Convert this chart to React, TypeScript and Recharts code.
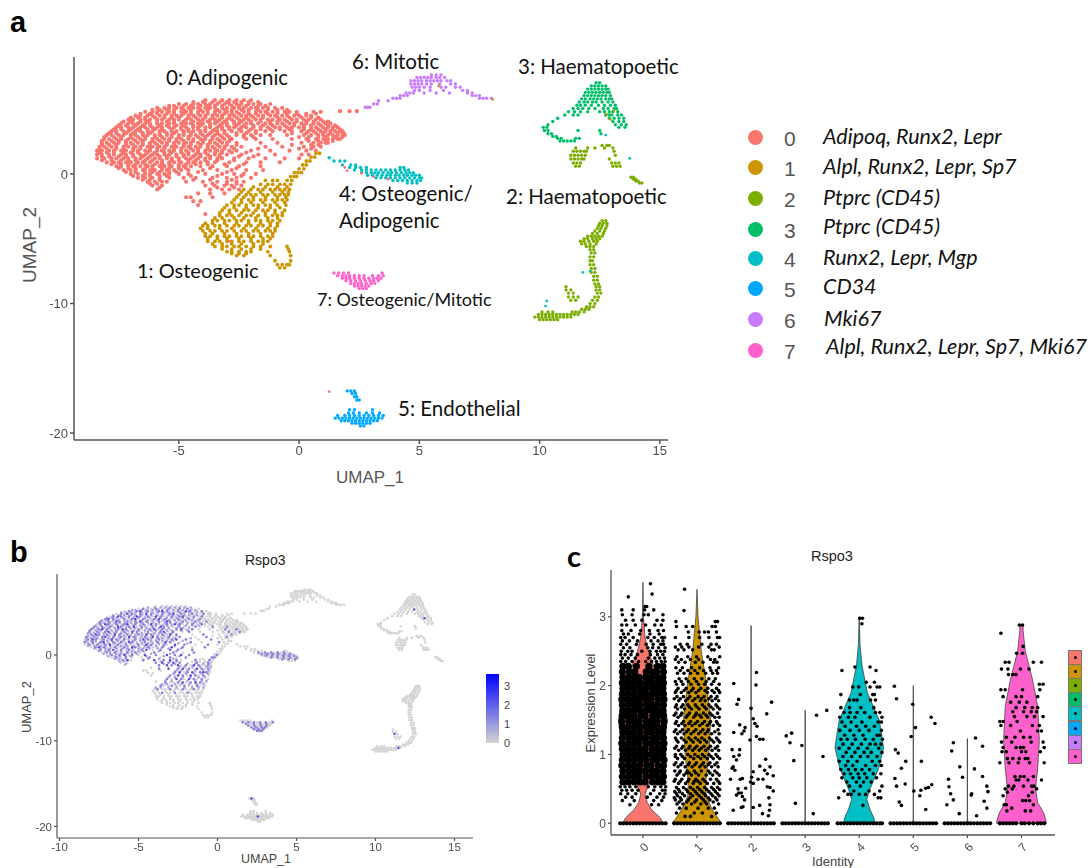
import React from 'react';
import { ScatterChart, Scatter, XAxis, YAxis } from 'recharts';

type Row = [number, number[]];
type Pair = [number, number];

const IDENTITIES = ['0', '1', '2', '3', '4', '5', '6', '7'];
const COLORS = ['#F8766D', '#CD9600', '#7CAE00', '#00BE67', '#00BFC4', '#00A9FF', '#C77CFF', '#FF61CC'];
const MARKERS = ['Adipoq, Runx2, Lepr', 'Alpl, Runx2, Lepr, Sp7', 'Ptprc (CD45)', 'Ptprc (CD45)', 'Runx2, Lepr, Mgp', 'CD34', 'Mki67', 'Alpl, Runx2, Lepr, Sp7, Mki67'];

// UMAP clusters, one row per y value
const cluster0: Row[] = [
  [5.7, [-3.9, -3.5, -3.2, -2.9, -2.6, -2.3, -2.0]],
  [5.4, [-5.0, -4.7, -4.4, -4.2, -3.9, -3.7, -3.4, -3.1, -2.9, -2.6, -2.4, -2.1, -1.9, -1.6, -1.2]],
  [5.1, [-5.9, -5.6, -5.4, -5.1, -4.9, -4.6, -4.4, -4.2, -3.9, -3.7, -3.5, -3.2, -3.0, -2.7, -2.5, -2.3, -2.0, -1.8, -1.5, -1.3, -1.0, -0.7]],
  [4.8, [-6.4, -6.1, -5.9, -5.7, -5.4, -5.2, -4.9, -4.7, -4.5, -4.2, -4.0, -3.8, -3.5, -3.3, -3.0, -2.8, -2.6, -2.3, -2.1, -1.8, -1.6, -1.4, -1.1, -0.9, -0.6, -0.4, -0.1, 0.6, 0.9]],
  [4.5, [-6.8, -6.6, -6.3, -6.1, -5.8, -5.6, -5.3, -5.1, -4.9, -4.6, -4.4, -4.1, -3.9, -3.6, -3.4, -3.2, -2.9, -2.7, -2.4, -2.2, -2.0, -1.7, -1.5, -1.2, -1.0, -0.7, -0.5, -0.2, 0.0, 0.3, 0.5]],
  [4.2, [-7.1, -6.9, -6.6, -6.4, -6.2, -5.9, -5.7, -5.4, -5.2, -5.0, -4.7, -4.5, -4.2, -4.0, -3.7, -3.5, -3.3, -3.0, -2.8, -2.5, -2.3, -2.1, -1.8, -1.6, -1.3, -1.1, -0.8, -0.6, -0.3, -0.1, 0.2, 0.4, 0.7, 0.9]],
  [3.9, [-7.4, -7.1, -6.9, -6.7, -6.4, -6.2, -5.9, -5.7, -5.4, -5.2, -4.9, -4.7, -4.5, -4.2, -4.0, -3.7, -3.5, -3.2, -3.0, -2.7, -2.5, -2.2, -2.0, -1.7, -1.4, -1.2, -0.9, -0.7, -0.4, -0.2, 0.1, 0.3, 0.6, 0.8, 1.1, 1.3]],
  [3.6, [-7.6, -7.4, -7.1, -6.9, -6.6, -6.4, -6.1, -5.9, -5.7, -5.4, -5.2, -4.9, -4.7, -4.4, -4.2, -3.9, -3.7, -3.4, -3.2, -2.9, -2.7, -2.4, -2.2, -1.9, -1.6, -1.3, -1.0, -0.8, -0.5, -0.3, 0.0, 0.2, 0.5, 0.7, 1.0, 1.2, 1.4, 1.6]],
  [3.3, [-7.8, -7.6, -7.3, -7.1, -6.8, -6.6, -6.3, -6.1, -5.8, -5.6, -5.3, -5.1, -4.8, -4.6, -4.4, -4.1, -3.9, -3.6, -3.4, -3.1, -2.8, -2.4, -2.1, -1.8, -1.4, -1.1, -0.6, -0.3, 0.1, 0.4, 0.6, 0.9, 1.1, 1.3, 1.5, 1.7, 1.8]],
  [3.0, [-8.0, -7.8, -7.5, -7.3, -7.0, -6.8, -6.5, -6.3, -6.0, -5.8, -5.5, -5.3, -5.0, -4.8, -4.5, -4.3, -4.0, -3.8, -3.5, -3.3, -3.0, -2.6, -2.3, -2.0, -1.6, -1.2, -0.5, 0.2, 0.5, 0.8, 1.0, 1.2, 1.4, 1.6, 1.8, 1.9]],
  [2.7, [-8.1, -7.9, -7.6, -7.4, -7.1, -6.9, -6.6, -6.4, -6.1, -5.9, -5.6, -5.4, -5.1, -4.9, -4.6, -4.4, -4.1, -3.9, -3.6, -3.4, -3.1, -2.8, -2.2, -1.8, -1.1, -0.3, 0.3, 0.7, 1.0, 1.2, 1.4, 1.6, 1.7]],
  [2.4, [-8.2, -8.0, -7.7, -7.5, -7.2, -7.0, -6.7, -6.5, -6.2, -6.0, -5.7, -5.5, -5.2, -5.0, -4.7, -4.5, -4.2, -4.0, -3.7, -3.5, -3.2, -3.0, -2.6, -1.6, -0.9, 0.1, 0.6, 0.9, 1.1, 1.2]],
  [2.1, [-8.3, -8.1, -7.8, -7.6, -7.3, -7.1, -6.8, -6.6, -6.3, -6.1, -5.8, -5.6, -5.3, -5.1, -4.8, -4.6, -4.3, -4.1, -3.8, -3.6, -3.3, -3.1, -2.8, -2.4, -1.4, -0.7, 0.2, 0.6, 0.9]],
  [1.8, [-8.4, -8.2, -7.9, -7.7, -7.4, -7.2, -6.9, -6.7, -6.4, -6.2, -5.9, -5.7, -5.4, -5.2, -4.9, -4.7, -4.4, -4.2, -3.9, -3.7, -3.4, -3.2, -2.9, -2.6, -2.0, -1.2, -0.4, 0.3, 0.7]],
  [1.5, [-8.4, -8.2, -7.9, -7.7, -7.4, -7.2, -6.9, -6.6, -6.4, -6.1, -5.9, -5.6, -5.4, -5.1, -4.8, -4.6, -4.3, -4.1, -3.8, -3.5, -3.3, -3.0, -2.4, -1.7, -1.0, 0.1, 0.4]],
  [1.2, [-8.4, -8.1, -7.8, -7.6, -7.3, -7.1, -6.8, -6.6, -6.3, -6.0, -5.8, -5.5, -5.3, -5.0, -4.7, -4.5, -4.2, -3.9, -3.7, -3.4, -3.2, -2.7, -2.1, -1.4, -0.6, 0.0]],
  [0.9, [-8.0, -7.7, -7.5, -7.2, -7.0, -6.7, -6.5, -6.2, -5.9, -5.7, -5.4, -5.2, -4.9, -4.6, -4.4, -4.1, -3.8, -3.5, -2.9, -2.2, -1.6, -0.8]],
  [0.6, [-7.6, -7.4, -7.1, -6.9, -6.6, -6.3, -6.1, -5.8, -5.6, -5.3, -5.0, -4.8, -4.5, -4.1, -3.6, -3.0, -2.5, -1.6]],
  [0.3, [-7.3, -7.0, -6.8, -6.5, -6.2, -6.0, -5.7, -5.5, -5.2, -4.9, -4.6, -4.0, -3.4, -2.8, -2.2, -1.5]],
  [0.0, [-7.0, -6.7, -6.4, -6.2, -5.9, -5.6, -5.4, -5.0, -4.6, -3.9, -3.2, -2.7, -2.3, -1.8]],
  [-0.3, [-6.7, -6.4, -6.1, -5.8, -5.4, -4.8, -4.3, -3.6, -3.0, -2.6, -2.0]],
  [-0.6, [-6.3, -6.0, -5.7, -5.5, -4.7, -4.0, -3.4, -3.0, -2.6, -2.3]],
  [-0.9, [-6.1, -5.7, -3.9, -3.5, -3.1, -2.8, -2.4]],
  [-1.2, [-5.9, -3.7, -3.2, -2.9, -2.5]],
  [-1.5, [-4.2, -3.7, -3.1]],
  [-1.8, [-4.7, -4.5, -3.6]],
  [-2.1, [-4.4, -4.1]],
  [-2.4, [-4.2]],
  [-3.1, [-3.9]],
  [4.85, [1.7, 2.1, 2.4]],
];
// more cells of cluster 0, left part (these also express Rspo3 in panel b)
const cluster0Left: Row[] = [
  [5.55, [-4.4, -4.0, -3.6, -3.3, -3.0, -2.7, -2.4, -2.1, -1.7]],
  [5.25, [-5.4, -5.2, -4.8, -4.5, -4.1, -3.8, -3.5, -3.2, -2.8, -2.5, -2.2, -1.7, -1.4]],
  [4.95, [-6.1, -5.8, -5.5, -5.2, -4.8, -4.5, -4.1, -3.8, -3.4, -3.1, -2.8, -2.4, -2.1, -1.7, -1.3]],
  [4.65, [-6.6, -6.2, -5.9, -5.5, -5.2, -4.8, -4.5, -4.2, -3.8, -3.5, -3.1, -2.8, -2.5, -2.1, -1.8, -1.3]],
  [4.35, [-7.0, -6.7, -6.4, -6.0, -5.6, -5.3, -5.0, -4.6, -4.3, -3.9, -3.6, -3.2, -2.9, -2.6, -2.2, -1.9, -1.5]],
  [4.05, [-7.3, -7.0, -6.6, -6.3, -5.9, -5.5, -5.2, -4.8, -4.4, -4.1, -3.8, -3.4, -3.1, -2.7, -2.4, -2.0, -1.6, -1.2]],
  [3.75, [-7.5, -7.2, -6.8, -6.5, -6.2, -5.8, -5.5, -5.1, -4.8, -4.4, -4.1, -3.7, -3.3, -3.0, -2.6, -2.3, -1.9, -1.5, -1.1]],
  [3.45, [-7.7, -7.4, -7.0, -6.7, -6.3, -6.0, -5.7, -5.3, -4.9, -4.6, -4.2, -3.9, -3.5, -3.2, -2.9, -2.5, -2.0, -1.6, -1.2]],
  [3.15, [-7.9, -7.6, -7.2, -6.9, -6.5, -6.2, -5.8, -5.5, -5.2, -4.8, -4.5, -4.1, -3.7, -3.4, -3.1, -2.6, -2.2, -1.8]],
  [2.85, [-8.1, -7.7, -7.4, -7.0, -6.7, -6.4, -6.0, -5.7, -5.3, -5.0, -4.6, -4.2, -3.9, -3.6, -3.2, -2.9, -2.3, -1.9]],
  [2.55, [-8.2, -7.8, -7.5, -7.2, -6.8, -6.5, -6.1, -5.8, -5.4, -5.1, -4.8, -4.4, -4.0, -3.7, -3.3, -2.9]],
  [2.25, [-8.2, -7.9, -7.6, -7.2, -6.9, -6.5, -6.2, -5.9, -5.5, -5.2, -4.8, -4.5, -4.1, -3.8, -3.4, -3.0, -2.6]],
  [1.95, [-8.3, -8.0, -7.6, -7.3, -6.9, -6.6, -6.2, -5.9, -5.6, -5.2, -4.9, -4.5, -4.2, -3.8, -3.5, -3.1, -2.7, -1.7]],
  [1.65, [-8.3, -8.0, -7.7, -7.3, -7.0, -6.7, -6.3, -6.0, -5.6, -5.3, -4.9, -4.6, -4.2, -3.9, -3.5, -3.2, -2.8, -2.2]],
  [1.35, [-8.2, -7.9, -7.5, -7.2, -6.9, -6.5, -6.2, -5.8, -5.5, -5.1, -4.8, -4.4, -4.1, -3.7, -3.3, -2.5, -1.9]],
  [1.05, [-8.2, -7.8, -7.4, -7.1, -6.8, -6.4, -6.1, -5.7, -5.3, -5.0, -4.6, -4.3, -3.9, -3.4, -2.7]],
  [0.75, [-7.8, -7.4, -7.1, -6.8, -6.4, -6.0, -5.7, -5.4, -5.0, -4.7, -4.3, -3.8, -3.1, -2.3]],
  [0.45, [-7.5, -7.1, -6.8, -6.4, -6.1, -5.7, -5.4, -5.0, -4.7, -3.7, -2.6]],
  [0.15, [-7.2, -6.8, -6.4, -6.1, -5.8, -5.4, -5.1, -4.2, -3.0]],
  [-0.15, [-6.9, -6.5, -6.2, -5.8, -5.5, -4.5, -3.4, -2.4]],
  [-0.45, [-6.5, -6.2, -5.8, -4.4, -3.7, -2.8]],
  [-0.75, [-6.2, -5.9, -3.6, -3.0, -2.6]],
  [-1.05, [-5.8, -3.4, -2.7]],
];
// and the right part, which stays grey in panel b
const cluster0Right: Row[] = [
  [4.95, [-0.9, -0.5]],
  [4.65, [-0.9, -0.5, -0.1, 0.3, 0.7]],
  [4.35, [-0.9, -0.4, 0.1, 0.5, 0.8]],
  [4.05, [-0.9, -0.5, -0.1, 0.3, 0.6, 1.0, 1.2]],
  [3.75, [-0.6, -0.2, 0.2, 0.5, 0.9, 1.2, 1.5]],
  [3.45, [-0.8, -0.4, 0.2, 0.5, 0.8, 1.1, 1.4, 1.7]],
  [3.15, [-0.3, 0.3, 0.7, 1.0, 1.3, 1.6, 1.85]],
  [2.85, [0.0, 0.4, 0.8, 1.1, 1.5, 1.8]],
  [2.55, [0.4, 0.8, 1.1, 1.4]],
  [2.25, [-0.3, 0.5, 0.8]],
  [1.95, [0.0, 0.5]],
];
const cluster1: Row[] = [
  [1.6, [0.7, 0.85]],
  [1.3, [0.5, 0.65]],
  [1.0, [0.3, 0.45]],
  [0.7, [0.15, 0.3]],
  [0.4, [0.0, 0.2]],
  [0.1, [-0.2, -0.05, 0.1]],
  [-0.2, [-0.35, -0.2, -0.1]],
  [-0.5, [-1.4, -1.1, -0.9, -0.5, -0.3]],
  [-0.8, [-1.6, -1.3, -1.1, -0.8, -0.6, -0.35]],
  [-1.2, [-2.3, -2.0, -1.7, -1.5, -1.2, -1.0, -0.8, -0.6, -0.4]],
  [-1.6, [-2.5, -2.2, -2.0, -1.8, -1.5, -1.3, -1.0, -0.8, -0.6, -0.45]],
  [-2.0, [-2.7, -2.4, -2.1, -1.9, -1.6, -1.4, -1.1, -0.9, -0.7, -0.5]],
  [-2.4, [-3.0, -2.7, -2.5, -2.2, -1.9, -1.7, -1.4, -1.2, -0.9, -0.55]],
  [-2.8, [-3.2, -2.9, -2.6, -2.3, -2.1, -1.8, -1.5, -1.3, -1.0, -0.6]],
  [-3.2, [-3.3, -3.0, -2.8, -2.5, -2.2, -2.0, -1.7, -1.4, -1.1, -0.9, -0.7]],
  [-3.6, [-3.6, -3.4, -3.1, -2.9, -2.6, -2.4, -2.1, -1.8, -1.6, -1.3, -1.1, -0.8]],
  [-4.0, [-4.0, -3.8, -3.5, -3.3, -3.0, -2.7, -2.5, -2.2, -2.0, -1.7, -1.5, -1.2, -0.9]],
  [-4.4, [-4.0, -3.7, -3.5, -3.2, -3.0, -2.7, -2.4, -2.2, -1.9, -1.7, -1.4, -1.2, -1.0]],
  [-4.8, [-3.9, -3.7, -3.4, -3.1, -2.9, -2.6, -2.4, -2.1, -1.9, -1.6, -1.3, -1.1]],
  [-5.2, [-3.8, -3.5, -3.3, -3.0, -2.8, -2.5, -2.3, -2.0, -1.7, -1.5, -1.3]],
  [-5.6, [-3.5, -3.2, -3.0, -2.7, -2.5, -2.2, -1.9, -1.6, -1.2, -0.5]],
  [-6.0, [-3.0, -2.8, -2.5, -2.2, -2.0, -1.3, -0.4]],
  [-6.3, [-2.6, -2.3, -1.2, -0.35]],
  [-6.7, [-1.0, -0.35]],
  [-7.0, [-0.9, -0.7, -0.5, -0.4]],
  [-7.25, [-0.8, -0.6]],
];
const cluster1Upper: Row[] = [
  [-1.0, [-1.9, -1.4, -0.9, -0.5]],
  [-1.4, [-2.4, -2.1, -1.6, -1.1, -0.7, -0.45]],
  [-1.8, [-2.6, -2.3, -1.9, -1.4, -0.9, -0.55]],
  [-2.2, [-2.8, -2.4, -2.0, -1.5, -1.0, -0.6]],
  [-2.6, [-3.1, -2.7, -2.2, -1.7, -1.2, -0.8]],
  [-3.0, [-3.3, -2.9, -2.4, -1.9, -1.4, -1.0, -0.7]],
  [-3.4, [-3.5, -3.2, -2.7, -2.3, -1.8, -1.3, -0.9]],
  [-3.8, [-3.9, -3.6, -3.1, -2.6, -2.1, -1.6, -1.2, -0.9]],
];
const cluster1Lower: Row[] = [
  [-4.2, [-4.1, -3.8, -3.3, -2.8, -2.3, -1.8, -1.3, -1.0]],
  [-4.6, [-3.9, -3.6, -3.1, -2.6, -2.1, -1.6, -1.1]],
  [-5.0, [-3.8, -3.4, -3.0, -2.5, -2.0, -1.5, -1.2]],
  [-5.4, [-3.6, -3.2, -2.8, -2.4, -1.9, -1.5]],
  [-5.8, [-3.2, -2.8, -2.4, -2.0, -1.6, -0.45]],
  [-6.15, [-2.8, -2.5, -2.2]],
];
const cluster2: Row[] = [
  [2.2, [12.6, 12.8, 12.9]],
  [2.0, [11.5, 12.0, 12.3, 13.05, 12.7]],
  [1.75, [11.4, 11.55, 11.7, 11.85, 11.95, 13.1]],
  [1.45, [11.3, 11.45, 11.6, 11.75, 11.9, 13.15]],
  [1.15, [11.3, 11.45, 11.6, 11.75, 11.85, 12.9]],
  [0.85, [11.4, 11.55, 11.7, 13.0, 13.15, 13.3]],
  [0.6, [11.5, 11.65, 13.05, 13.2, 13.35]],
  [-0.25, [13.8, 13.9]],
  [-0.4, [13.9, 14.0]],
  [-0.55, [14.0, 14.1]],
  [-0.7, [14.15, 14.25]],
  [-3.6, [12.6, 12.75]],
  [-3.8, [12.5, 12.65, 12.8]],
  [-4.0, [12.45, 12.6, 12.8]],
  [-4.2, [12.4, 12.55, 12.75]],
  [-4.4, [12.3, 12.5, 12.7]],
  [-4.6, [12.2, 12.4, 12.65]],
  [-4.8, [12.0, 12.15, 12.3, 12.45, 12.6]],
  [-5.0, [11.85, 12.0, 12.2, 12.35, 12.5]],
  [-5.2, [11.7, 11.85, 12.05, 12.25, 12.4]],
  [-5.4, [11.75, 11.9, 12.1, 12.35]],
  [-5.6, [11.95, 12.1, 12.25]],
  [-5.85, [12.1, 12.25]],
  [-6.1, [12.15, 12.3]],
  [-6.4, [12.1, 12.25]],
  [-6.7, [12.1, 12.2]],
  [-7.0, [12.1, 12.25]],
  [-7.3, [12.15, 12.3]],
  [-7.6, [12.15, 12.3]],
  [-7.9, [12.25, 12.4]],
  [-8.2, [12.25, 12.4]],
  [-8.5, [12.3, 12.45]],
  [-8.7, [12.35, 12.5, 11.1]],
  [-8.95, [12.35, 12.5, 11.1, 11.3]],
  [-9.2, [12.4, 12.55, 11.2, 11.4]],
  [-9.5, [12.3, 12.45, 11.2, 11.4, 11.6]],
  [-9.75, [12.2, 12.4, 11.3, 11.5]],
  [-10.0, [12.1, 12.3]],
  [-10.25, [11.95, 12.1, 12.25]],
  [-10.45, [11.75, 11.9, 12.05]],
  [-10.65, [10.1, 10.35, 10.55, 11.35, 11.5, 11.65, 11.85]],
  [-10.85, [9.95, 10.1, 10.25, 10.4, 10.55, 10.7, 10.85, 11.0, 11.15, 11.3, 11.45, 11.6]],
  [-11.05, [9.8, 9.95, 10.1, 10.25, 10.4, 10.55, 10.7, 10.85, 11.0, 11.15, 11.3]],
  [-11.25, [10.0, 10.15, 10.3, 10.45, 10.6, 10.75]],
];
const cluster3: Row[] = [
  [7.05, [12.35, 12.5]],
  [6.8, [12.15, 12.3, 12.45, 12.6, 12.75]],
  [6.55, [12.0, 12.15, 12.3, 12.45, 12.6, 12.75, 12.85]],
  [6.3, [11.9, 12.05, 12.2, 12.35, 12.5, 12.65, 12.8, 12.9]],
  [6.05, [11.85, 12.0, 12.15, 12.3, 12.45, 12.6, 12.75, 12.95]],
  [5.8, [11.75, 11.9, 12.1, 12.25, 12.4, 12.55, 12.75, 12.9, 13.0]],
  [5.55, [11.65, 11.85, 12.0, 12.2, 12.35, 12.6, 12.85, 13.05]],
  [5.3, [11.55, 11.7, 11.9, 12.15, 12.45, 12.7, 12.95, 13.15]],
  [5.05, [11.4, 11.6, 11.8, 12.05, 12.3, 12.65, 12.85, 13.1, 13.2]],
  [4.8, [11.2, 11.45, 11.7, 12.0, 12.5, 12.7, 12.9, 13.05, 13.25]],
  [4.55, [11.05, 11.4, 11.6, 12.75, 12.9, 13.0, 13.25, 13.4]],
  [4.3, [10.75, 12.9, 13.1, 13.3, 13.5]],
  [4.05, [10.55, 13.05, 13.3, 13.5]],
  [3.8, [10.35, 13.15, 13.4, 13.6]],
  [3.6, [10.15, 10.3, 13.3, 13.55]],
  [3.35, [10.2, 10.35, 12.5, 11.6]],
  [3.1, [10.35, 10.5, 12.55]],
  [2.9, [10.55, 10.7]],
  [2.75, [10.75, 10.9, 11.5, 11.65]],
  [2.55, [10.85, 11.0, 11.15, 11.3, 11.45]],
];
const cluster4: Row[] = [
  [1.25, [1.25]],
  [1.0, [1.45, 1.7, 1.9]],
  [0.7, [1.8, 2.15, 2.35]],
  [0.5, [2.1, 2.35, 2.55, 2.8, 4.2, 4.35]],
  [0.3, [2.3, 2.6, 2.8, 3.0, 3.2, 3.4, 3.6, 3.8, 4.0, 4.2, 4.4, 4.55]],
  [0.1, [2.6, 2.8, 3.0, 3.15, 3.3, 3.5, 3.7, 3.85, 4.05, 4.25, 4.45, 4.6, 4.75]],
  [-0.1, [2.85, 3.05, 3.25, 3.45, 3.65, 3.8, 4.0, 4.15, 4.35, 4.5, 4.7, 4.85, 5.0]],
  [-0.3, [3.2, 3.4, 3.6, 3.8, 4.0, 4.2, 4.4, 4.6, 4.8, 5.0, 5.1]],
  [-0.5, [3.9, 4.1, 4.3, 4.5, 4.7, 4.9, 5.05]],
  [-0.7, [4.5, 4.7, 4.9]],
];
const cluster5: Row[] = [
  [-16.75, [2.0, 2.15, 2.3]],
  [-16.95, [2.2, 2.35]],
  [-17.2, [2.3, 2.4]],
  [-17.45, [2.4, 2.5]],
  [-18.2, [2.1, 2.3, 3.05]],
  [-18.45, [2.05, 2.25, 2.5, 2.8, 3.05, 3.35]],
  [-18.65, [1.6, 1.9, 2.1, 2.3, 2.5, 2.7, 2.9, 3.1, 3.3, 3.5]],
  [-18.85, [1.5, 1.65, 1.8, 1.95, 2.1, 2.25, 2.4, 2.55, 2.7, 2.85, 3.0, 3.15, 3.3, 3.45]],
  [-19.05, [1.75, 1.9, 2.05, 2.2, 2.35, 2.5, 2.65, 2.8, 2.95, 3.1, 3.25]],
  [-19.25, [2.2, 2.35, 2.5, 2.65, 2.8, 2.95]],
  [-19.45, [2.55, 2.7]],
];
const cluster6: Row[] = [
  [7.65, [5.5, 5.7, 5.9]],
  [7.45, [4.9, 5.05, 5.2, 5.35, 5.5, 5.7, 5.85, 6.05]],
  [7.2, [4.65, 4.8, 4.95, 5.1, 5.3, 5.45, 5.6, 5.75, 5.9, 6.15, 6.3]],
  [6.95, [4.65, 4.8, 4.95, 5.1, 5.3, 5.5, 5.85, 6.3, 6.5]],
  [6.7, [4.7, 4.85, 5.0, 5.2, 5.45, 5.9, 6.1, 6.5, 6.7]],
  [6.45, [4.8, 5.0, 5.45, 6.0, 6.8, 7.0]],
  [6.25, [4.45, 4.6, 4.75, 5.2, 5.7, 6.25, 7.0, 7.2]],
  [6.05, [4.2, 4.35, 4.5, 7.2, 7.35, 7.5]],
  [5.85, [3.9, 4.05, 4.2, 7.5, 7.65, 7.8, 8.0]],
  [5.65, [3.7, 3.3]],
  [5.4, [3.1, 3.25]],
  [5.15, [2.75, 2.85, 2.95]],
];
const cluster7: Row[] = [
  [-7.65, [1.45, 1.65, 1.85, 2.05, 3.45]],
  [-7.85, [1.6, 1.8, 1.95, 2.1, 2.3, 2.5, 2.7, 3.05, 3.3, 3.5]],
  [-8.05, [1.8, 1.95, 2.1, 2.3, 2.5, 2.7, 2.9, 3.1, 3.25, 3.4]],
  [-8.25, [1.95, 2.15, 2.35, 2.55, 2.75, 2.95, 3.1, 3.3]],
  [-8.45, [2.15, 2.3, 2.45, 2.6, 2.8, 3.0, 3.15]],
  [-8.65, [2.3, 2.45, 2.6, 2.75, 2.9]],
  [-8.85, [2.5, 2.65, 2.8]],
];
const strayPoints: Pair[] = [[5.8, 6.8], [8.05, 5.75], [12.8, 4.6], [12.95, 4.2], [13.1, 4.9]];
const strayBlue: Pair[] = [[11.8, -7.6], [12.1, -7.5], [10.25, -10.2], [10.3, -9.8], [12.75, 3.0], [13.75, 1.2]];
const strayCoral: Pair[] = [[1.9, 0.5], [2.6, 0.05], [3.1, -0.2], [2.0, 0.25], [3.7, -0.4], [-2.9, -5.2], [1.25, -16.8]];

// Rspo3 feature plot, cells with detected expression
const rspo3Mid: Row[] = [
  [5.4, [-4.7, -3.9, -3.1, -2.4, -1.9]],
  [5.1, [-5.6, -5.1, -4.4, -3.7, -3.2, -2.5, -1.8, -1.0]],
  [4.8, [-6.1, -5.4, -4.9, -4.2, -3.5, -3.0, -2.3, -1.6, -0.9]],
  [4.5, [-6.6, -6.1, -5.6, -4.9, -4.4, -3.6, -2.9, -2.4, -1.5, -1.0]],
  [4.2, [-7.1, -6.6, -5.9, -5.4, -4.7, -4.0, -3.3, -2.5, -1.8, -1.1]],
  [3.9, [-7.4, -6.9, -6.2, -5.7, -5.2, -4.5, -3.7, -3.0, -2.2, -1.4, -0.7]],
  [3.6, [-7.4, -6.9, -6.4, -5.9, -5.2, -4.7, -3.9, -3.2, -2.4, -1.6, -1.0]],
  [3.3, [-7.8, -7.3, -6.8, -6.1, -5.6, -4.8, -4.1, -3.4, -2.4, -1.4, -0.3, 0.6]],
  [3.0, [-8.0, -7.5, -7.0, -6.3, -5.8, -5.0, -4.3, -3.5, -2.6, -1.6, 0.5, 1.2]],
  [2.7, [-8.1, -7.6, -7.1, -6.4, -5.9, -5.1, -4.4, -3.6, -2.8, -1.8, 0.7, 1.4]],
  [2.4, [-8.0, -7.5, -7.0, -6.2, -5.7, -5.0, -4.2, -3.5, -2.6, -0.9, 0.9]],
  [2.1, [-8.3, -7.8, -7.3, -6.6, -6.1, -5.3, -4.6, -3.8, -3.1, -2.4, -0.7, 0.6]],
  [1.8, [-8.2, -7.7, -7.2, -6.4, -5.9, -5.2, -4.4, -3.7, -2.9, -2.0, -0.4]],
  [1.5, [-8.4, -7.9, -7.4, -6.6, -6.1, -5.4, -4.6, -3.8, -3.0, -1.7, 0.1]],
  [1.2, [-8.1, -7.6, -7.1, -6.3, -5.8, -5.0, -4.2, -3.4, -2.1, -0.6]],
  [0.9, [-7.7, -7.2, -6.5, -5.9, -5.2, -4.4, -3.5, -2.2, -0.8]],
  [0.6, [-7.4, -6.9, -6.1, -5.6, -4.8, -3.6, -2.5, -1.6]],
  [0.3, [-7.0, -6.5, -5.7, -5.2, -4.0, -2.8, -1.5]],
  [0.0, [-6.7, -6.2, -5.4, -3.9, -2.7, -1.8, -0.05]],
  [-0.3, [-6.4, -5.8, -4.3, -3.0, -2.0, -0.2, -0.35]],
  [-0.6, [-6.0, -4.7, -3.4, -2.6, -1.4, -0.5]],
  [-0.9, [-3.9, -3.1, -2.4, -1.3, -0.6]],
  [-1.2, [-3.7, -2.9, -2.0, -1.2, -0.6]],
  [-1.6, [-3.7, -2.5, -1.8, -1.0, -0.6]],
  [-2.0, [-2.7, -1.9, -1.1, -0.7]],
  [-2.4, [-3.0, -2.2, -1.4, -0.9]],
  [-2.8, [-3.2, -2.3, -1.5, -1.0]],
  [-3.2, [-3.3, -2.5, -1.7, -1.1]],
  [-3.6, [-3.6, -2.9, -2.1, -1.3]],
  [-4.0, [-3.8, -3.0, -2.2, -1.5]],
  [-4.4, [-3.5, -2.7, -1.9]],
  [0.3, [2.6, 3.0, 3.4, 3.8, 4.2]],
  [0.1, [2.8, 3.15, 3.5, 3.85, 4.25, 4.6]],
  [-0.1, [3.05, 3.45, 3.8, 4.15, 4.5, 4.85]],
  [-0.3, [3.4, 3.8, 4.2, 4.6, 5.0]],
  [-0.5, [4.1, 4.5, 4.9]],
  [-7.85, [1.6, 1.95, 2.3, 2.7, 3.05, 3.5]],
  [-8.05, [1.8, 2.3, 2.7, 3.1]],
  [-8.25, [1.95, 2.35, 2.75, 3.1]],
  [-8.45, [2.15, 2.45, 2.8, 3.0]],
  [-8.65, [2.3, 2.6, 2.9]],
  [-8.85, [2.5, 2.65, 2.8]],
];
const rspo3High: Row[] = [
  [5.1, [-4.9, -3.5, -2.0]],
  [4.8, [-5.7, -4.5, -2.8]],
  [4.5, [-6.3, -5.1, -3.9, -2.2]],
  [4.2, [-6.9, -5.2, -3.7]],
  [3.9, [-6.4, -4.9, -3.2]],
  [3.6, [-7.1, -5.7, -4.2, -2.7]],
  [3.3, [-6.3, -5.3, -3.6]],
  [3.0, [-7.3, -6.0, -4.0, -2.3]],
  [2.7, [-6.9, -5.4, -3.4]],
  [2.4, [-7.7, -6.5, -4.5, -3.0]],
  [2.1, [-7.1, -5.6, -4.1]],
  [1.8, [-7.9, -6.7, -4.7, -2.6]],
  [1.5, [-7.2, -5.6, -3.3]],
  [1.2, [-6.8, -4.5, -2.7]],
  [0.9, [-7.5, -5.4, -2.9]],
  [0.6, [-6.6, -4.5, -3.0]],
  [0.0, [-5.9, -4.6, -3.2, -2.3]],
  [-0.6, [-5.7, -4.0, -3.0]],
  [-0.9, [-3.5, -2.8]],
  [-1.2, [-3.2, -2.5, -1.5]],
  [-1.6, [-3.1, -2.2, -1.3]],
  [-2.0, [-2.4, -1.6, -0.9]],
  [-2.4, [-2.5, -1.7]],
  [-2.8, [-2.6, -1.8]],
  [-3.2, [-2.2, -1.4]],
  [-16.75, [2.15]],
  [-18.85, [2.55]],
  [-9.2, [11.2]],
  [-10.85, [11.45]],
  [5.3, [12.45]],
  [4.3, [13.1]],
];

// Violin outlines: expression level and half width
const violinLevels: number[][] = [
  [0, 0.08, 0.2, 0.3, 0.42, 0.55, 0.8, 1.1, 1.5, 1.9, 2.2, 2.5, 2.7, 3.0, 3.5],
  [0, 0.06, 0.2, 0.4, 0.6, 1.0, 1.5, 2.0, 2.5, 3.0, 3.4],
  [0, 0.05, 2.87],
  [0, 0.05, 1.64],
  [0, 0.08, 0.2, 0.35, 0.5, 0.8, 1.1, 1.5, 1.9, 2.3, 2.6, 3.0],
  [0, 0.05, 2.0],
  [0, 0.05, 1.23],
  [0, 0.05, 0.15, 0.3, 0.5, 0.8, 1.2, 1.7, 2.1, 2.5, 2.8, 2.88],
];
const violinWidths: number[][] = [
  [0.37, 0.32, 0.16, 0.08, 0.04, 0.1, 0.27, 0.39, 0.45, 0.38, 0.24, 0.1, 0.04, 0.01, 0],
  [0.46, 0.4, 0.28, 0.17, 0.16, 0.22, 0.25, 0.18, 0.08, 0.02, 0],
  [0.02, 0.004, 0.002],
  [0.02, 0.003, 0.002],
  [0.29, 0.27, 0.2, 0.14, 0.2, 0.36, 0.45, 0.37, 0.15, 0.05, 0.015, 0.002],
  [0.02, 0.003, 0.002],
  [0.02, 0.003, 0.002],
  [0.46, 0.45, 0.41, 0.3, 0.26, 0.3, 0.33, 0.3, 0.2, 0.07, 0.03, 0.03],
];

// Jittered cells per identity
const zeroRows: Row[] = [
  [0, [-0.42, -0.36, -0.3, -0.24, -0.18, -0.12, -0.06, 0, 0.06, 0.12, 0.18, 0.24, 0.3, 0.36, 0.42,
    0.58, 0.64, 0.7, 0.76, 0.82, 0.88, 0.94, 1.0, 1.06, 1.12, 1.18, 1.24, 1.3, 1.36, 1.42,
    1.58, 1.64, 1.7, 1.76, 1.82, 1.88, 1.94, 2.0, 2.06, 2.12, 2.18, 2.24, 2.3, 2.36, 2.42,
    2.58, 2.64, 2.7, 2.76, 2.82, 2.88, 2.94, 3.0, 3.06, 3.12, 3.18, 3.24, 3.3, 3.36, 3.42,
    3.6, 3.66, 3.72, 3.78, 3.84, 3.9, 3.96, 4.02, 4.08, 4.14, 4.2, 4.26, 4.32, 4.38, 4.42,
    4.58, 4.64, 4.7, 4.76, 4.82, 4.88, 4.94, 5.0, 5.06, 5.12, 5.18, 5.24, 5.3, 5.36, 5.42,
    5.58, 5.64, 5.7, 5.76, 5.82, 5.88, 5.94, 6.0, 6.06, 6.12, 6.18, 6.24, 6.3, 6.36, 6.42,
    6.6, 6.66, 6.72, 6.78, 6.84, 6.9, 7.0, 7.06, 7.14, 7.22, 7.3, 7.36, 7.42]],
];
const violin0Core: Row[] = [
  [0.6, [-0.37, -0.27, -0.16, -0.05, 0.04, 0.18, 0.28, 0.37]],
  [0.68, [-0.38, -0.27, -0.18, -0.07, 0.06, 0.16, 0.27, 0.38]],
  [0.76, [-0.37, -0.26, -0.15, -0.05, 0.05, 0.17, 0.26, 0.37]],
  [0.84, [-0.39, -0.28, -0.17, -0.06, 0.07, 0.15, 0.28, 0.38]],
  [0.92, [-0.38, -0.27, -0.16, -0.04, 0.05, 0.18, 0.27, 0.39]],
  [1.0, [-0.37, -0.26, -0.15, -0.06, 0.06, 0.16, 0.26, 0.37]],
  [1.08, [-0.38, -0.28, -0.17, -0.05, 0.04, 0.17, 0.28, 0.38]],
  [1.16, [-0.39, -0.27, -0.16, -0.07, 0.06, 0.15, 0.27, 0.39]],
  [1.24, [-0.38, -0.26, -0.15, -0.04, 0.05, 0.18, 0.26, 0.38]],
  [1.32, [-0.37, -0.28, -0.17, -0.06, 0.07, 0.16, 0.28, 0.37]],
  [1.4, [-0.38, -0.27, -0.16, -0.05, 0.05, 0.17, 0.27, 0.38]],
  [1.48, [-0.39, -0.26, -0.15, -0.07, 0.06, 0.15, 0.26, 0.39]],
  [1.56, [-0.38, -0.28, -0.17, -0.04, 0.04, 0.18, 0.28, 0.38]],
  [1.64, [-0.37, -0.27, -0.16, -0.06, 0.06, 0.16, 0.27, 0.37]],
  [1.72, [-0.38, -0.26, -0.15, -0.05, 0.07, 0.17, 0.26, 0.38]],
  [1.8, [-0.39, -0.28, -0.17, -0.07, 0.05, 0.15, 0.28, 0.39]],
  [1.88, [-0.38, -0.27, -0.16, -0.04, 0.06, 0.18, 0.27, 0.38]],
  [1.96, [-0.37, -0.26, -0.15, -0.06, 0.04, 0.16, 0.26, 0.37]],
  [2.04, [-0.38, -0.28, -0.17, -0.05, 0.07, 0.17, 0.28, 0.38]],
  [2.12, [-0.37, -0.27, -0.16, -0.07, 0.05, 0.15, 0.27, 0.37]],
  [2.2, [-0.38, -0.26, -0.15, 0.06, 0.18, 0.26, 0.38]],
  [2.28, [-0.37, -0.27, -0.12, 0.11, 0.27, 0.37]],
];
const violin0Edge: Row[] = [
  [0.27, [-0.24, 0.16, 0.29]],
  [0.33, [-0.38, -0.16, 0.2, 0.35]],
  [0.38, [-0.32, -0.2, 0.08, 0.26, 0.38]],
  [0.43, [-0.41, -0.28, -0.13, 0.14, 0.31, 0.41]],
  [0.48, [-0.39, -0.3, -0.2, -0.09, 0.2, 0.36, 0.41]],
  [0.53, [-0.42, -0.33, -0.24, -0.13, 0.1, 0.22, 0.33, 0.42]],
  [2.35, [-0.41, -0.32, -0.2, -0.08, 0.05, 0.16, 0.25, 0.34, 0.41]],
  [2.4, [-0.38, -0.27, -0.14, 0.1, 0.22, 0.31, 0.4]],
  [2.45, [-0.41, -0.33, -0.22, -0.1, 0.14, 0.27, 0.37]],
  [2.5, [-0.4, -0.28, -0.2, -0.02, 0.13, 0.25, 0.33, 0.4]],
  [2.55, [-0.36, -0.24, 0.09, 0.18, 0.29, 0.41]],
  [2.6, [-0.41, -0.3, -0.12, 0.06, 0.19, 0.33, 0.38]],
  [2.65, [-0.38, -0.25, -0.1, 0.15, 0.28, 0.37]],
  [2.7, [-0.41, -0.33, -0.18, 0.09, 0.21, 0.35, 0.4]],
  [2.75, [-0.36, -0.27, -0.06, 0.13, 0.3]],
  [2.8, [-0.39, -0.22, -0.04, 0.12, 0.28, 0.38]],
  [2.88, [-0.39, -0.3, -0.14, 0.05, 0.22, 0.34]],
  [2.95, [-0.32, -0.18, -0.02, 0.26, 0.37]],
  [3.03, [-0.38, -0.2, 0.02, 0.1, 0.37]],
  [3.1, [-0.39, -0.18, 0.03, 0.2]],
  [3.15, [0.04, 0.07]],
  [3.29, [-0.27]],
  [3.33, [0.17]],
  [3.48, [0.14]],
];
const violin1Dots: Row[] = [
  [0.1, [0.78, 0.88, 1.27]],
  [0.15, [0.62, 0.95, 1.1, 1.36]],
  [0.22, [0.68, 0.8, 1.02, 1.21, 1.32]],
  [0.28, [0.63, 0.74, 0.9, 1.07, 1.18, 1.4]],
  [0.34, [0.6, 0.71, 0.84, 0.99, 1.12, 1.24, 1.37]],
  [0.4, [0.64, 0.77, 0.92, 1.04, 1.16, 1.29, 1.41]],
  [0.46, [0.59, 0.68, 0.83, 0.97, 1.09, 1.22, 1.34]],
  [0.52, [0.62, 0.75, 0.88, 1.01, 1.14, 1.27, 1.38]],
  [0.58, [0.66, 0.79, 0.93, 1.06, 1.19, 1.31, 1.42]],
  [0.64, [0.6, 0.72, 0.85, 0.98, 1.11, 1.25, 1.36]],
  [0.7, [0.63, 0.76, 0.9, 1.03, 1.17, 1.29, 1.41]],
  [0.76, [0.59, 0.69, 0.82, 0.95, 1.08, 1.21, 1.33]],
  [0.82, [0.65, 0.78, 0.91, 1.05, 1.15, 1.27, 1.39]],
  [0.88, [0.61, 0.73, 0.86, 0.99, 1.12, 1.24, 1.37]],
  [0.94, [0.64, 0.77, 0.94, 1.07, 1.19, 1.3, 1.42]],
  [1.0, [0.6, 0.7, 0.83, 0.96, 1.1, 1.22, 1.35]],
  [1.06, [0.66, 0.79, 0.92, 1.04, 1.16, 1.28, 1.4]],
  [1.12, [0.62, 0.74, 0.87, 1.0, 1.13, 1.25, 1.38]],
  [1.18, [0.65, 0.8, 0.93, 1.06, 1.18, 1.31, 1.42]],
  [1.24, [0.6, 0.71, 0.85, 0.97, 1.09, 1.23, 1.36]],
  [1.3, [0.64, 0.76, 0.89, 1.03, 1.15, 1.27, 1.41]],
  [1.36, [0.61, 0.73, 0.84, 0.98, 1.11, 1.21, 1.39]],
  [1.42, [0.66, 0.78, 0.91, 1.05, 1.19, 1.3, 1.42]],
  [1.48, [0.62, 0.75, 0.88, 1.01, 1.14, 1.25, 1.36]],
  [1.54, [0.65, 0.8, 0.94, 1.08, 1.2, 1.33, 1.41]],
  [1.6, [0.61, 0.72, 0.86, 0.99, 1.12, 1.24, 1.38]],
  [1.66, [0.64, 0.77, 0.9, 1.04, 1.17, 1.3, 1.42]],
  [1.72, [0.62, 0.74, 0.83, 0.97, 1.1, 1.22, 1.35]],
  [1.78, [0.66, 0.79, 0.92, 1.06, 1.15, 1.28, 1.4]],
  [1.84, [0.63, 0.75, 0.87, 1.02, 1.13, 1.26, 1.37]],
  [1.9, [0.6, 0.71, 0.85, 0.98, 1.19, 1.32, 1.42]],
  [1.96, [0.65, 0.8, 0.93, 1.07, 1.2, 1.36]],
  [2.02, [0.62, 0.74, 0.89, 1.03, 1.14, 1.27, 1.41]],
  [2.1, [0.67, 0.8, 0.95, 1.09, 1.22, 1.34]],
  [2.18, [0.64, 0.76, 0.88, 1.01, 1.16, 1.29, 1.38]],
  [2.26, [0.61, 0.73, 0.9, 1.05, 1.24, 1.4]],
  [2.34, [0.66, 0.78, 0.97, 1.11, 1.31, 1.37]],
  [2.42, [0.63, 0.83, 0.99, 1.2, 1.42]],
  [2.52, [0.65, 0.76, 0.92, 1.27, 1.32]],
  [2.6, [0.69, 0.82, 1.09, 1.26, 1.36]],
  [2.7, [0.6, 0.85, 1.05, 1.22, 1.38, 1.42]],
  [2.78, [0.84, 1.04, 1.14, 1.21, 1.36]],
  [2.86, [0.62, 0.8, 0.92, 1.28, 1.34]],
  [2.93, [0.61, 1.34, 1.38]],
  [3.09, [0.76]],
  [3.4, [0.77]],
];
const violin1More: Row[] = [
  [0.31, [0.67, 0.81, 0.96, 1.15, 1.3]],
  [0.37, [0.58, 0.69, 0.87, 1.08, 1.21, 1.34]],
  [0.43, [0.62, 0.73, 0.88, 1.0, 1.13, 1.26, 1.38]],
  [0.49, [0.66, 0.8, 0.93, 1.05, 1.18, 1.31, 1.42]],
  [0.61, [0.58, 0.69, 0.83, 0.95, 1.02, 1.15, 1.39]],
  [0.73, [0.67, 0.8, 0.86, 0.98, 1.24, 1.37]],
  [0.85, [0.58, 0.7, 0.84, 0.96, 1.09, 1.21, 1.33]],
  [0.97, [0.6, 0.73, 0.88, 1.02, 1.14, 1.26, 1.38]],
  [1.09, [0.59, 0.72, 0.85, 0.96, 1.08, 1.21, 1.34]],
  [1.21, [0.62, 0.76, 0.89, 1.02, 1.14, 1.27, 1.39]],
  [1.33, [0.58, 0.69, 0.81, 0.94, 1.07, 1.19, 1.33]],
  [1.45, [0.6, 0.72, 0.85, 0.97, 1.1, 1.23, 1.38]],
  [1.57, [0.58, 0.7, 0.83, 0.97, 1.05, 1.17, 1.28]],
  [1.69, [0.6, 0.71, 0.86, 1.0, 1.14, 1.26, 1.38]],
  [1.81, [0.58, 0.69, 0.83, 0.96, 1.08, 1.22, 1.34]],
  [1.93, [0.62, 0.76, 0.9, 1.03, 1.15, 1.28, 1.4]],
  [2.06, [0.6, 0.71, 0.84, 0.99, 1.17, 1.31]],
  [2.22, [0.69, 0.83, 0.96, 1.12, 1.26, 1.36]],
  [2.38, [0.6, 0.71, 0.88, 1.03, 1.25, 1.33]],
  [2.56, [0.6, 0.72, 0.85, 1.03, 1.22, 1.41]],
];
const violin2Dots: Pair[] = [[1.68, 2.03], [2.1, 2.19], [2.09, 2.01], [1.77, 1.8], [1.74, 1.73], [2.38, 1.76], [2.0, 1.67], [2.29, 1.59], [2.04, 1.52], [2.07, 1.45], [2.11, 1.41], [1.79, 1.43], [1.89, 1.39], [1.87, 1.34], [1.83, 1.3], [1.68, 1.32], [1.98, 1.21], [2.1, 1.26], [2.16, 1.22], [2.22, 1.22], [1.65, 1.07], [1.79, 1.07], [1.78, 0.99], [1.68, 0.97], [1.67, 0.82], [1.65, 0.8], [1.73, 0.92], [1.7, 0.77], [2.27, 0.93], [2.16, 0.83], [2.25, 0.77], [2.35, 0.82], [2.3, 0.72], [2.41, 0.69], [1.62, 0.64], [1.8, 0.64], [1.84, 0.65], [2.04, 0.75], [2.01, 0.67], [1.99, 0.6], [2.04, 0.58], [2.13, 0.64], [2.22, 0.64], [1.76, 0.5], [1.77, 0.44], [1.82, 0.44], [1.9, 0.51], [1.73, 0.41], [1.84, 0.39], [1.88, 0.34], [1.67, 0.19], [1.82, 0.23], [1.85, 0.24], [2.04, 0.23], [2.16, 0.26], [2.35, 0.27], [2.34, 0.19], [2.21, 0.14], [2.32, 0.11], [2.3, 0.53], [2.35, 0.52], [2.41, 0.47], [2.33, 0.37]];
const violin3Dots: Pair[] = [[2.65, 1.27], [2.75, 1.31], [2.72, 1.17], [2.94, 1.13], [2.79, 0.91], [2.82, 0.29], [3.15, 0.14], [3.33, 0.97], [3.21, 1.57], [3.4, 1.64]];
const violin4Dots: Row[] = [
  [0.26, [4.07]],
  [0.37, [3.62, 4.35, 4.4]],
  [0.42, [3.79, 3.85, 4.0, 4.12, 4.28]],
  [0.47, [3.72, 3.9, 4.18, 4.38]],
  [0.54, [3.82, 4.02, 4.42]],
  [0.6, [3.77, 3.95, 4.08, 4.22]],
  [0.66, [3.68, 3.88, 4.0, 4.14, 4.32]],
  [0.72, [3.72, 3.84, 3.98, 4.1, 4.26, 4.4]],
  [0.78, [3.66, 3.8, 3.93, 4.05, 4.19]],
  [0.84, [3.75, 3.88, 4.12, 4.3, 4.41]],
  [0.9, [3.63, 3.79, 3.96, 4.24, 4.38]],
  [0.97, [3.7, 3.86, 4.02, 4.16, 4.33]],
  [1.03, [3.76, 3.92, 4.09, 4.22, 4.42]],
  [1.09, [3.63, 3.81, 3.98, 4.15, 4.36]],
  [1.15, [3.7, 3.87, 4.04, 4.2, 4.3, 4.4]],
  [1.22, [3.66, 3.78, 3.93, 4.11, 4.26, 4.43]],
  [1.28, [3.73, 3.9, 4.07, 4.33, 4.38]],
  [1.35, [3.64, 3.83, 4.0, 4.18, 4.41]],
  [1.41, [3.74, 3.95, 4.12, 4.28]],
  [1.47, [3.68, 3.85, 4.05, 4.35, 4.41]],
  [1.54, [3.64, 3.8, 3.92, 4.2, 4.42]],
  [1.61, [3.72, 3.83, 3.96, 4.1, 4.3, 4.38]],
  [1.68, [3.66, 3.82, 4.03, 4.27]],
  [1.79, [3.82, 3.9, 3.96, 4.21, 4.3]],
  [1.87, [3.66, 4.02, 4.25, 4.28]],
  [1.98, [3.88, 3.99, 4.2, 4.33, 4.38]],
  [2.05, [4.13, 4.28]],
  [2.22, [3.68, 4.31]],
  [2.27, [3.92, 4.2]],
  [2.9, [4.05]],
  [2.98, [4.01, 4.06]],
];
const violin5Dots: Pair[] = [[4.65, 1.99], [4.69, 1.81], [4.99, 1.73], [5.33, 1.54], [5.4, 1.45], [5.04, 1.39], [4.96, 1.26], [4.67, 1.07], [4.72, 1.02], [5.15, 0.9], [4.86, 0.9], [4.78, 0.8], [4.66, 0.65], [4.69, 0.54], [4.85, 0.57], [4.74, 0.31], [4.78, 0.26], [5.01, 0.47], [5.12, 0.4], [5.14, 0.48], [5.23, 0.51], [5.28, 0.52], [5.34, 0.56], [5.23, 0.2]];
const violin6Dots: Pair[] = [[5.71, 1.05], [5.74, 1.17], [6.15, 1.24], [6.28, 1.12], [5.86, 0.82], [5.91, 0.67], [5.65, 0.64], [5.66, 0.53], [5.69, 0.43], [5.74, 0.34], [5.62, 0.27], [5.85, 0.14], [6.08, 0.43], [6.07, 0.41], [6.13, 0.79], [6.28, 0.68], [6.36, 0.54], [6.38, 0.46], [6.31, 0.32], [6.36, 0.22], [6.17, 0.11]];
const violin7Dots: Row[] = [
  [0.18, [6.73, 7.07, 7.17]],
  [0.22, [6.82]],
  [0.27, [6.68, 6.72, 7.22]],
  [0.33, [7.02, 7.08, 7.15]],
  [0.4, [6.66, 7.13]],
  [0.45, [7.2, 6.74]],
  [0.5, [6.7, 6.83, 7.28]],
  [0.54, [6.76, 6.86, 7.04, 7.19, 7.23]],
  [0.63, [6.9, 6.95, 7.12, 7.37]],
  [0.68, [6.88, 6.98, 7.05, 7.22]],
  [0.88, [6.6, 6.77, 6.94, 7.15, 7.42]],
  [0.94, [6.74, 6.84, 6.96, 7.07, 7.12]],
  [1.04, [6.64, 6.72, 7.0, 7.08, 7.35]],
  [1.1, [6.66, 6.9, 6.98, 7.04, 7.42]],
  [1.18, [6.63, 6.82, 7.18, 7.4]],
  [1.25, [6.72, 6.88, 7.04, 7.16]],
  [1.34, [6.98, 7.3, 7.37]],
  [1.42, [6.62, 6.8, 7.2, 7.33]],
  [1.48, [6.6, 6.66, 6.92]],
  [1.55, [6.87, 7.1, 7.24, 7.4]],
  [1.62, [6.84, 7.04, 7.18, 7.28]],
  [1.68, [6.9, 7.06, 7.2, 7.3]],
  [1.76, [6.8, 6.96, 7.1]],
  [1.84, [6.66, 6.9, 7.0, 7.3]],
  [1.94, [6.62, 6.7, 7.02, 7.34]],
  [2.02, [7.33, 7.4]],
  [2.16, [6.76, 6.84, 6.9]],
  [2.24, [6.63, 6.75, 6.98, 7.14]],
  [2.34, [6.7, 6.77, 7.22, 7.37]],
  [2.47, [6.91, 7.02]],
  [2.57, [7.03]],
  [2.76, [6.62]],
  [2.88, [6.96, 7.02]],
];

const ticksUmapX = [-5, 0, 5, 10, 15];
const ticksFeatureX = [-10, -5, 0, 5, 10, 15];
const ticksUmapY = [-20, -10, 0];
const ticksLevel = [0, 1, 2, 3];
const ticksIdentity = [0, 1, 2, 3, 4, 5, 6, 7];
const colorbarLabels = ['3', '2', '1', '0'];

const clusterRows = [cluster0, cluster1, cluster2, cluster3, cluster4, cluster5, cluster6, cluster7];

const fromRows = (rows: Row[]) => rows.flatMap(([y, xs]) => xs.map((x) => ({ x, y })));
const fromPairs = (pairs: Pair[]) => pairs.map(([x, y]) => ({ x, y }));

const violinRing = (group: number) => {
  const lv = violinLevels[group];
  const w = violinWidths[group];
  const right = lv.map((y, i) => ({ x: group + w[i], y }));
  const left = lv.map((y, i) => ({ x: group - w[i], y })).reverse();
  return [...right, ...left];
};

const dot = (r: number, fill: string) => (p: any) => <circle cx={p.cx} cy={p.cy} r={r} fill={fill} />;

const axisGray = '#555';
const tickStyle = { fill: '#4d4d4d', fontSize: 12, fontFamily: 'Liberation Sans' };

const Text: React.FC<{ x: number; y: number; size?: number; style?: React.CSSProperties; children: React.ReactNode }> = ({ x, y, size = 20.5, style, children }) => (
  <div style={{ position: 'absolute', left: x, top: y, transform: 'translateY(-50%)', fontSize: size, lineHeight: 1, whiteSpace: 'nowrap', fontFamily: 'Lato', color: '#111', ...style }}>
    {children}
  </div>
);

const AngledTick = (p: any) => (
  <text x={p.x + 2} y={p.y + 8} transform={`rotate(-45 ${p.x + 2} ${p.y + 8})`} textAnchor="middle" dominantBaseline="middle" {...tickStyle}>
    {p.payload.value}
  </text>
);

const UmapPanel = () => (
  <div style={{ position: 'absolute', left: 0, top: 50, filter: 'blur(0.35px)' }}>
    <ScatterChart width={680} height={440} margin={{ top: 7, right: 12, bottom: 0, left: 0 }}>
      <XAxis type="number" dataKey="x" domain={[-9.36, 15.34]} ticks={ticksUmapX} height={50} stroke={axisGray} strokeWidth={1.5} tick={{ ...tickStyle, fontSize: 13 }} tickSize={4} allowDataOverflow />
      <YAxis type="number" dataKey="y" domain={[-20.54, 9.03]} ticks={ticksUmapY} width={74} stroke={axisGray} strokeWidth={1.5} tick={{ ...tickStyle, fontSize: 13 }} tickSize={4} allowDataOverflow />
      {clusterRows.map((rows, i) => (
        <Scatter key={i} data={fromRows(rows)} isAnimationActive={false} shape={dot(i === 0 ? 2.1 : i === 1 ? 1.9 : 1.7, COLORS[i])} />
      ))}
      <Scatter data={fromRows(cluster0Left)} isAnimationActive={false} shape={dot(2.1, COLORS[0])} />
      <Scatter data={fromRows(cluster0Right)} isAnimationActive={false} shape={dot(2.1, COLORS[0])} />
      <Scatter data={fromRows(cluster1Upper)} isAnimationActive={false} shape={dot(1.9, COLORS[1])} />
      <Scatter data={fromRows(cluster1Lower)} isAnimationActive={false} shape={dot(1.9, COLORS[1])} />
      <Scatter data={fromPairs(strayPoints)} isAnimationActive={false} shape={dot(1.3, COLORS[1])} />
      <Scatter data={fromPairs(strayBlue)} isAnimationActive={false} shape={dot(1.4, COLORS[4])} />
      <Scatter data={fromPairs(strayCoral)} isAnimationActive={false} shape={dot(1.4, COLORS[0])} />
    </ScatterChart>
  </div>
);

const FeaturePanel = () => (
  <div style={{ position: 'absolute', left: 0, top: 570, filter: 'blur(0.4px)' }}>
    <ScatterChart width={480} height={298} margin={{ top: 4, right: 7, bottom: 0, left: 0 }}>
      <XAxis type="number" dataKey="x" domain={[-10.16, 16.17]} ticks={ticksFeatureX} height={30} stroke={axisGray} strokeWidth={1.2} tick={{ ...tickStyle, fontSize: 11.5 }} tickSize={3} allowDataOverflow />
      <YAxis type="number" dataKey="y" domain={[-21.35, 9.45]} ticks={ticksUmapY} width={57} stroke={axisGray} strokeWidth={1.2} tick={{ ...tickStyle, fontSize: 11.5 }} tickSize={3} allowDataOverflow />
      {[...clusterRows, cluster0Right, cluster1Lower].map((rows, i) => (
        <Scatter key={i} data={fromRows(rows)} isAnimationActive={false} shape={dot(1.3, '#d3d3d3')} />
      ))}
      <Scatter data={fromRows(cluster0Left)} isAnimationActive={false} shape={dot(1.25, '#a99be6')} />
      <Scatter data={fromRows(cluster1Upper)} isAnimationActive={false} shape={dot(1.25, '#a99be6')} />
      <Scatter data={fromRows(rspo3Mid)} isAnimationActive={false} shape={dot(1.3, '#8f7ede')} />
      <Scatter data={fromRows(rspo3High)} isAnimationActive={false} shape={dot(1.2, '#5f45e2')} />
    </ScatterChart>
  </div>
);

const ViolinPanel = () => (
  <div style={{ position: 'absolute', left: 560, top: 565, filter: 'blur(0.35px)' }}>
    <ScatterChart width={500} height={295} margin={{ top: 5, right: 5, bottom: 0, left: 0 }}>
      <XAxis type="number" dataKey="x" domain={[-0.59, 7.62]} ticks={ticksIdentity} height={25} stroke={axisGray} strokeWidth={1.3} tick={<AngledTick />} tickSize={3} interval={0} allowDataOverflow />
      <YAxis type="number" dataKey="y" domain={[-0.17, 3.68]} ticks={ticksLevel} width={51} stroke={axisGray} strokeWidth={1.3} tick={tickStyle} tickSize={3} allowDataOverflow />
      {IDENTITIES.map((_, i) => (
        <Scatter
          key={i}
          data={violinRing(i)}
          isAnimationActive={false}
          shape={() => <g />}
          line={(p: any) => (
            <path d={`M${p.points.map((q: any) => `${q.x},${q.y}`).join('L')}Z`} fill={COLORS[i]} stroke="#444" strokeWidth={0.8} />
          )}
        />
      ))}
      <Scatter data={fromRows(violin0Core)} isAnimationActive={false} shape={dot(3.6, '#000')} />
      {[violin0Edge, violin1Dots, violin1More, violin4Dots, violin7Dots].map((rows, i) => (
        <Scatter key={i} data={fromRows(rows)} isAnimationActive={false} shape={dot(1.8, '#000')} />
      ))}
      <Scatter data={fromRows(zeroRows)} isAnimationActive={false} shape={dot(2.1, '#000')} />
      {[violin2Dots, violin3Dots, violin5Dots, violin6Dots].map((pairs, i) => (
        <Scatter key={i} data={fromPairs(pairs)} isAnimationActive={false} shape={dot(1.8, '#000')} />
      ))}
    </ScatterChart>
  </div>
);

export default function App() {
  return (
    <div style={{ position: 'absolute', left: 0, top: 0, width: 1091, height: 868, overflow: 'hidden', background: '#fff' }}>
      <UmapPanel />
      <FeaturePanel />
      <ViolinPanel />

      <Text x={10} y={22} size={29} style={{ fontWeight: 700, color: '#000', fontFamily: 'Liberation Sans' }}>a</Text>
      <Text x={10} y={552} size={29} style={{ fontWeight: 700, color: '#000', fontFamily: 'Liberation Sans' }}>b</Text>
      <Text x={567} y={555} size={29} style={{ fontWeight: 700, color: '#000', fontFamily: 'Lato' }}>c</Text>

      <Text x={166} y={77}>0: Adipogenic</Text>
      <Text x={352} y={61}>6: Mitotic</Text>
      <Text x={518} y={66}>3: Haematopoetic</Text>
      <Text x={339} y={193}>4: Osteogenic/</Text>
      <Text x={339} y={220}>Adipogenic</Text>
      <Text x={506} y={196}>2: Haematopoetic</Text>
      <Text x={137} y={270} size={20}>1: Osteogenic</Text>
      <Text x={317} y={299} size={18}>7: Osteogenic/Mitotic</Text>
      <Text x={398} y={408}>5: Endothelial</Text>

      <Text x={336} y={477} size={17} style={{ fontFamily: 'Liberation Sans', color: '#555' }}>UMAP_1</Text>
      <Text x={-11} y={245} size={19} style={{ fontFamily: 'Liberation Sans', color: '#555', width: 80, textAlign: 'center', transform: 'translateY(-50%) rotate(-90deg)' }}>UMAP_2</Text>

      {IDENTITIES.map((id, i) => (
        <React.Fragment key={id}>
          <div style={{ position: 'absolute', left: 748, top: [130, 160, 191, 222, 251, 281, 312, 343][i], width: 15, height: 15, borderRadius: '50%', background: COLORS[i], filter: 'blur(0.5px)' }} />
          <Text x={784} y={[138, 168, 199, 230, 259, 289, 320, 351][i]} size={21} style={{ fontFamily: 'Liberation Sans', color: '#555' }}>{id}</Text>
          <Text x={i === 7 ? 826 : i === 6 ? 824 : 823} y={[137, 167, 198, 227, 258, 287, 319, 347][i]} size={21.5} style={{ fontStyle: 'italic' }}>{MARKERS[i]}</Text>
        </React.Fragment>
      ))}

      <Text x={245} y={560} size={14} style={{ fontFamily: 'Liberation Sans', color: '#222' }}>Rspo3</Text>
      <Text x={241} y={859} size={12.5} style={{ fontFamily: 'Liberation Sans', color: '#444' }}>UMAP_1</Text>
      <Text x={-4} y={707} size={13} style={{ fontFamily: 'Liberation Sans', color: '#444', width: 60, textAlign: 'center', transform: 'translateY(-50%) rotate(-90deg)' }}>UMAP_2</Text>
      <div style={{ position: 'absolute', left: 486, top: 674, width: 13, height: 69, background: 'linear-gradient(to bottom, #0000ff, #d3d3d3)', filter: 'blur(0.4px)' }} />
      {colorbarLabels.map((t, i) => (
        <Text key={t} x={504} y={[686, 705, 724, 743][i]} size={11} style={{ fontFamily: 'Liberation Sans', color: '#444' }}>{t}</Text>
      ))}

      <Text x={811} y={556} size={14.5} style={{ fontFamily: 'Liberation Sans', color: '#222' }}>Rspo3</Text>
      <Text x={812} y={861} size={13} style={{ fontFamily: 'Liberation Sans', color: '#444' }}>Identity</Text>
      <Text x={540} y={703} size={13} style={{ fontFamily: 'Liberation Sans', color: '#444', width: 100, textAlign: 'center', transform: 'translateY(-50%) rotate(-90deg)' }}>Expression Level</Text>
      {IDENTITIES.map((id, i) => (
        <div key={id} style={{ position: 'absolute', left: 1068, top: 650 + i * 14.1, width: 12, height: 13, background: COLORS[i], border: '1px solid #777', boxSizing: 'content-box' }}>
          <div style={{ position: 'absolute', left: 4.5, top: 5, width: 3, height: 3, borderRadius: '50%', background: '#000' }} />
        </div>
      ))}
    </div>
  );
}
